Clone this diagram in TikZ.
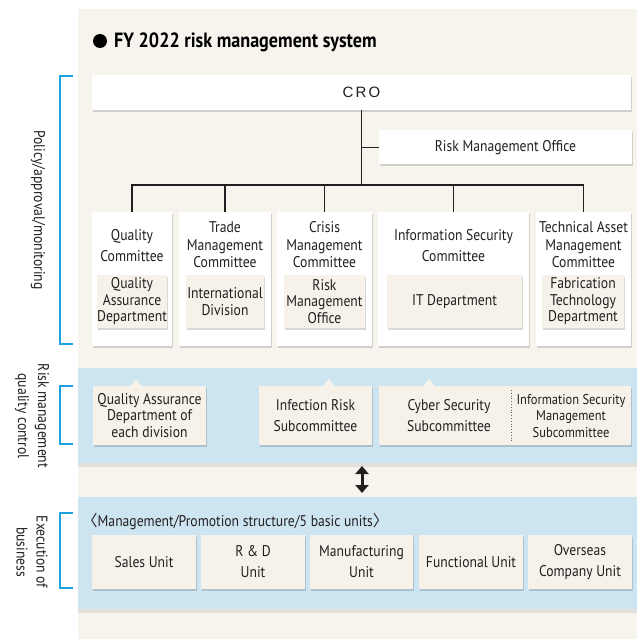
\documentclass[tikz,border=0pt]{standalone}
\usepackage{fontspec}
\setmainfont{PT Sans}[FakeStretch=0.88]
\newfontfamily\crofont{Liberation Sans}[LetterSpace=15]
\newfontfamily\cjk{Noto Sans CJK JP}
\usetikzlibrary{shadows,arrows.meta}
\definecolor{panel}{HTML}{F7F4EE}
\definecolor{beige}{HTML}{F6F2EA}
\definecolor{band}{HTML}{CDE5F1}
\definecolor{brk}{HTML}{1BA0E2}
\definecolor{txt}{HTML}{231F20}
\tikzset{
  sh/.style={drop shadow={shadow xshift=1pt,shadow yshift=-2pt,fill=black,opacity=0.15}},
  wbox/.style={fill=white,sh,inner sep=0pt,text=txt},
  bbox/.style={fill=beige,sh,inner sep=0pt,text=txt,align=center,font=\fontsize{15.5}{16.5}\selectfont},
  bandbox/.style={fill=band,inner sep=0pt,drop shadow={shadow xshift=0pt,shadow yshift=-4pt,fill=black,opacity=0.08}},
  ttl/.style={text=txt,align=center,inner sep=0pt,font=\fontsize{15.5}{17.5}\selectfont},
  ttltwo/.style={text=txt,align=center,inner sep=0pt,font=\fontsize{15.5}{21}\selectfont},
  conn/.style={draw=txt,line width=1.4pt},
  brack/.style={draw=brk,line width=1.3pt},
  side/.style={text=txt,align=center,inner sep=0pt,rotate=-90,font=\fontsize{15.5}{20}\selectfont},
}
\begin{document}
\begin{tikzpicture}[x=1pt,y=-1pt]
\useasboundingbox (0,0) rectangle (637,639);
\fill[white] (0,0) rectangle (637,639);
\fill[panel] (78,9) rectangle (637,639);
% title
\node[circle,fill=black,inner sep=0pt,minimum size=14pt] (dot) at (100,41) {};
\node[anchor=west,inner sep=0pt,font=\fontsize{20.6}{22}\selectfont\bfseries,text=black] (title) at (114,42) {FY 2022 risk management system};
% CRO and office
\node[wbox,minimum width=539pt,minimum height=35pt] (cro) at (361.5,92.5) {\fontsize{15}{17}\crofont CRO};
\node[wbox,minimum width=253pt,minimum height=34pt,font=\fontsize{15.5}{16}\selectfont] (rmo) at (505.5,147.5) {Risk Management Office};
\coordinate (bus) at (361.5,185);
% committees
\node[wbox,minimum width=80pt,minimum height=134pt] (qc) at (132,279) {};
\node[wbox,minimum width=92pt,minimum height=134pt] (tc) at (225,279) {};
\node[wbox,minimum width=95pt,minimum height=134pt] (cc) at (324.5,279) {};
\node[wbox,minimum width=151pt,minimum height=134pt] (ic) at (453.5,279) {};
\node[wbox,minimum width=95pt,minimum height=134pt] (tac) at (583.5,279) {};
\node[ttltwo] (qct) at (132,246) {Quality\\Committee};
\node[ttl] (tct) at (225,245) {Trade\\Management\\Committee};
\node[ttl] (cct) at (324.5,245) {Crisis\\Management\\Committee};
\node[ttltwo] (ict) at (453.5,246) {Information Security\\Committee};
\node[ttl] (tact) at (583.5,245) {Technical Asset\\Management\\Committee};
\node[bbox,minimum width=68pt,minimum height=53pt] (qad) at (132,301.5) {Quality\\Assurance\\Department};
\node[bbox,minimum width=78pt,minimum height=53pt] (intl) at (225,301.5) {International\\Division};
\node[bbox,minimum width=81pt,minimum height=53pt] (rmob) at (324.5,301.5) {Risk\\Management\\Office};
\node[bbox,minimum width=135pt,minimum height=53pt] (itd) at (454.5,301.5) {IT Department};
\node[bbox,minimum width=82pt,minimum height=53pt] (fab) at (583,301.5) {Fabrication\\Technology\\Department};
% connectors
\draw[conn] (cro.south) -- (bus);
\draw[conn] (rmo.west) -- (rmo.west -| cro.south);
\draw[conn] (qc.north) -- (qc.north |- bus) -- (tac.north |- bus) -- (tac.north);
\draw[conn] (tc.north) -- (tc.north |- bus);
\draw[conn] (cc.north) -- (cc.north |- bus);
\draw[conn] (ic.north) -- (ic.north |- bus);
% band 1
\node[bandbox,minimum width=559pt,minimum height=95pt] (band1) at (357.5,415.5) {};
\node[bbox,minimum width=113pt,minimum height=59pt] (qae) at (149.5,415.5) {Quality Assurance\\Department of\\each division};
\node[bbox,minimum width=113pt,minimum height=59pt,font=\fontsize{15.5}{21}\selectfont] (irs) at (315.5,415.5) {Infection Risk\\Subcommittee};
\node[bbox,minimum width=252pt,minimum height=59pt] (css) at (505,415.5) {};
\fill[beige] (130,386.3) -- (136,379) -- (142,386.3) -- cycle;
\fill[beige] (323,386.3) -- (329,379) -- (335,386.3) -- cycle;
\fill[beige] (423,386.3) -- (429,379) -- (435,386.3) -- cycle;
\node[ttltwo] (csst) at (449,415.5) {Cyber Security\\Subcommittee};
\node[ttl,font=\fontsize{14.2}{16.5}\selectfont] (ismt) at (571,416) {Information Security\\Management\\Subcommittee};
\draw[txt!70,line width=0.8pt,dotted] (511,390) -- (511,441);
% arrow
\coordinate (a1) at (362,466);
\coordinate (a2) at (362,493);
\draw[txt,line width=3pt,{Triangle[length=8pt,width=13pt]}-{Triangle[length=8pt,width=13pt]}] (a1) -- (a2);
% band 2
\node[bandbox,minimum width=559pt,minimum height=112pt] (band2) at (357.5,553) {};
\node[anchor=west,inner sep=0pt,text=txt,font=\fontsize{15.5}{17}\selectfont] (hdr) at (82,522) {{\cjk 〈}Management/Promotion structure/5 basic units{\cjk 〉}};
\node[bbox,minimum width=104pt,minimum height=54pt] (u1) at (144,562) {Sales Unit};
\node[bbox,minimum width=104pt,minimum height=54pt,font=\fontsize{15.5}{21}\selectfont] (u2) at (253,562) {R \& D\\Unit};
\node[bbox,minimum width=103pt,minimum height=54pt,font=\fontsize{15.5}{21}\selectfont] (u3) at (361.5,562) {Manufacturing\\Unit};
\node[bbox,minimum width=104pt,minimum height=54pt] (u4) at (471,562) {Functional Unit};
\node[bbox,minimum width=104pt,minimum height=54pt,font=\fontsize{15.5}{21}\selectfont] (u5) at (580,562) {Overseas\\Company Unit};
% brackets
\draw[brack] (73,76) -- (60,76) -- (60,344) -- (73,344);
\draw[brack] (73,386) -- (60,386) -- (60,444) -- (73,444);
\draw[brack] (73,513) -- (60,513) -- (60,588) -- (73,588);
\node[side] (l1) at (38,210) {Policy/approval/monitoring};
\node[side] (l2) at (32,416) {Risk management\\quality control};
\node[side] (l3) at (32,552) {Execution of\\business};
\end{tikzpicture}
\end{document}
